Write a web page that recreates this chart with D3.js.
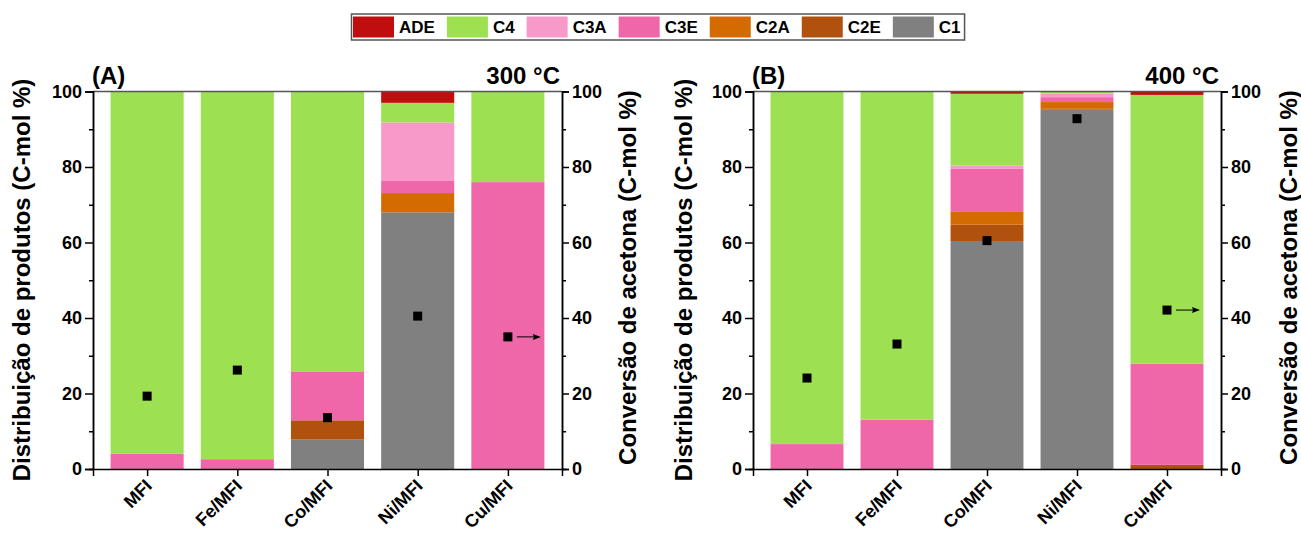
<!DOCTYPE html>
<html><head><meta charset="utf-8">
<script src="https://cdn.jsdelivr.net/npm/d3@7"></script>
<style>body{margin:0;background:#fff}svg{display:block}text{font-family:"Liberation Sans",Arial,sans-serif;font-weight:bold;fill:#000}</style>
</head><body><svg id="c" width="1301" height="533"></svg>
<script>
const categories = ["MFI","Fe/MFI","Co/MFI","Ni/MFI","Cu/MFI"];
const seriesKeys = ["C1","C2E","C2A","C3E","C3A","C4","ADE"];
const legendKeys = ["ADE","C4","C3A","C3E","C2A","C2E","C1"];
const colors = {ADE:"#c00d0d",C4:"#9de052",C3A:"#f799c9",C3E:"#ef67a9",C2A:"#d46b00",C2E:"#b0520e",C1:"#808080"};
const yTicks = [0,20,40,60,80,100];
const yMinor = [10,30,50,70,90];

// 300 °C
const a_C1  = [0,0,7.9,68,0];
const a_C2E = [0,0,5,0,0];
const a_C2A = [0,0,0,5.1,0];
const a_C3E = [4.1,2.6,12.8,3.2,76];
const a_C3A = [0,0,0,15.5,0];
const a_C4  = [95.9,97.4,74.3,5.2,24];
const a_ADE = [0,0,0,3,0];
const a_conv = [19.3,26.2,13.6,40.5,35.0];
// 400 °C
const b_C1  = [0,0,60.4,95.2,0];
const b_C2E = [0,0,4.3,0.2,1.1];
const b_C2A = [0,0,3.4,1.8,0];
const b_C3E = [6.6,13.1,11.5,1.3,26.8];
const b_C3A = [0,0,0.8,1,0];
const b_C4  = [93.4,86.9,19,0.5,71.2];
const b_ADE = [0,0,0.6,0,0.9];
const b_conv = [24.1,33.1,60.5,92.8,42.1];

function rows(S){return categories.map((c,i)=>{const r={cat:c,i:i+1};seriesKeys.forEach(k=>r[k]=S[k][i]);return r;});}
const panels = [
  {label:"(A)",temp:"300 °C",x0:93,x1:562,data:rows({C1:a_C1,C2E:a_C2E,C2A:a_C2A,C3E:a_C3E,C3A:a_C3A,C4:a_C4,ADE:a_ADE}),conv:a_conv,ltx:22,rtx:628},
  {label:"(B)",temp:"400 °C",x0:753,x1:1221,data:rows({C1:b_C1,C2E:b_C2E,C2A:b_C2A,C3E:b_C3E,C3A:b_C3A,C4:b_C4,ADE:b_ADE}),conv:b_conv,ltx:684,rtx:1289}
];
const svg = d3.select("#c");
const yTop=91.5, yBot=469;
const y = d3.scaleLinear().domain([0,100]).range([yBot,yTop]);
const stack = d3.stack().keys(seriesKeys);

panels.forEach(p=>{
  const x = d3.scaleLinear().domain([0.4,5.6]).range([p.x0,p.x1]);
  const bw = x(0.81)-x(0);
  const g = svg.append("g");
  stack(p.data).forEach(layer=>{
    g.selectAll(null).data(layer.filter(d=>d[1]-d[0]>0)).enter().append("rect")
      .attr("x",d=>x(d.data.i)-bw/2).attr("width",bw)
      .attr("y",d=>y(d[1])).attr("height",d=>y(d[0])-y(d[1]))
      .attr("fill",colors[layer.key]);
  });
  g.append("line").attr("x1",p.x0).attr("x2",p.x1).attr("y1",yTop).attr("y2",yTop).attr("stroke","#555").attr("stroke-width",1.5);
  const la = g.append("g").attr("transform",`translate(${p.x0},0)`)
    .call(d3.axisLeft(y).tickValues(yTicks).tickSize(8).tickPadding(3).tickFormat(d3.format("d")));
  const ra = g.append("g").attr("transform",`translate(${p.x1},0)`)
    .call(d3.axisRight(y).tickValues(yTicks).tickSize(7).tickPadding(3).tickFormat(d3.format("d")));
  g.append("g").attr("transform",`translate(${p.x0},0)`).call(d3.axisLeft(y).tickValues(yMinor).tickSize(4).tickFormat(""));
  g.append("g").attr("transform",`translate(${p.x1},0)`).call(d3.axisRight(y).tickValues(yMinor).tickSize(4).tickFormat(""));
  const xa = g.append("g").attr("transform",`translate(0,${yBot})`)
    .call(d3.axisBottom(x).tickValues([1,2,3,4,5]).tickSize(7).tickFormat(""));
  [la,ra].forEach(a=>a.selectAll("text").style("font-size","18px"));
  g.selectAll(".domain").attr("stroke","#000").attr("stroke-width",1.5);
  g.selectAll(".tick line").attr("stroke","#000").attr("stroke-width",1.5);
  // rotated category labels
  categories.forEach((c,i)=>{
    const tx = x(i+1)+6, ty = yBot+18;
    g.append("text").attr("text-anchor","end")
      .attr("transform",`translate(${tx},${ty}) rotate(-45)`).style("font-size","18px").text(c);
  });
  // conversion markers
  g.selectAll(null).data(p.conv).enter().append("rect")
    .attr("x",(d,i)=>x(i+1)-4.5).attr("y",d=>y(d)-4.5).attr("width",9).attr("height",9).attr("fill","#000");
  const ci = 4, cv = p.conv[ci];
  const ax = x(ci+1);
  g.append("line").attr("x1",ax+9).attr("x2",ax+30).attr("y1",y(cv)).attr("y2",y(cv)).attr("stroke","#000").attr("stroke-width",1);
  g.append("path").attr("d",`M${ax+33},${y(cv)} L${ax+25},${y(cv)-3} L${ax+26},${y(cv)} L${ax+25},${y(cv)+3} Z`).attr("fill","#000");
  // labels
  g.append("text").attr("x",p.x0-1).attr("y",84).style("font-size","24px").text(p.label);
  g.append("text").attr("x",p.x1-2).attr("y",84).attr("text-anchor","end").style("font-size","24px").text(p.temp);
  g.append("text").attr("transform",`translate(${p.ltx},280) rotate(-90)`).attr("text-anchor","middle").attr("dy","0.35em").style("font-size","24px").text("Distribuição de produtos (C-mol %)");
  g.append("text").attr("transform",`translate(${p.rtx},277.5) rotate(-90)`).attr("text-anchor","middle").attr("dy","0.35em").style("font-size","24px").text("Conversão de acetona (C-mol %)");
});

// legend
const lg = svg.append("g");
const box = lg.append("rect").attr("x",351.5).attr("y",14).attr("height",26).attr("fill","#fff").attr("stroke","#555").attr("stroke-width",1.5);
let lx = 353;
legendKeys.forEach(k=>{
  lg.append("rect").attr("x",lx).attr("y",16.5).attr("width",41).attr("height",21).attr("fill",colors[k]);
  const t = lg.append("text").attr("x",lx+46).attr("y",33).style("font-size","17px").text(k);
  const w = t.node().getComputedTextLength();
  lx = lx+46+w+12;
});
box.attr("width",lx-351.5-8);
</script></body></html>
